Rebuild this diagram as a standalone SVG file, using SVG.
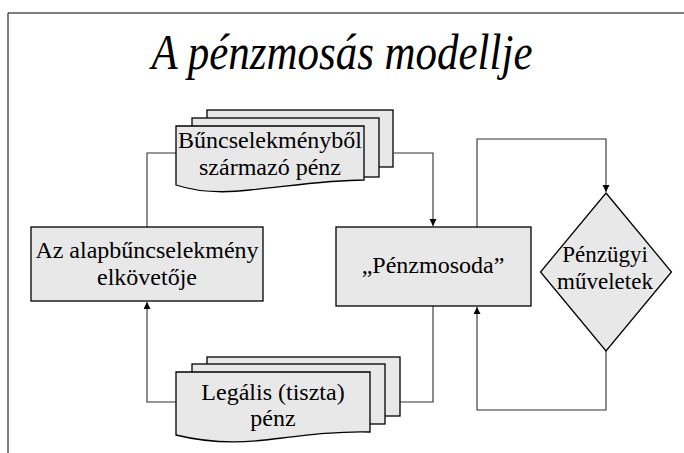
<svg xmlns="http://www.w3.org/2000/svg" width="684" height="453" viewBox="0 0 684 453">
<style>
.box{fill:#e8e8e8;stroke:#000;stroke-width:1.3}
.conn{fill:none;stroke:#303030;stroke-width:1.1}
.t{font-family:"Liberation Serif","Times New Roman",serif;font-size:24px;fill:#000;text-anchor:middle}
.ts{font-size:23px}
.title{font-family:"Liberation Serif","Times New Roman",serif;font-size:51px;font-style:italic;fill:#000;text-anchor:middle}
</style>
<defs>
<marker id="ah" markerUnits="userSpaceOnUse" markerWidth="8" markerHeight="8" refX="7" refY="3.5" orient="auto">
<path d="M0,0 L7,3.5 L0,7 Z" fill="#000"/>
</marker>
</defs>
<rect width="684" height="453" fill="#fff"/>
<g id="frame">
<line x1="8" y1="13" x2="684" y2="13" stroke="#808080" stroke-width="2"/>
<line x1="8" y1="13" x2="8" y2="453" stroke="#000" stroke-width="1"/>
</g>
<text class="title" x="342" y="69" textLength="381" lengthAdjust="spacingAndGlyphs">A pénzmosás modellje</text>
<g id="connectors">
<path class="conn" d="M147,227 V153 H176"/>
<path class="conn" d="M394,153 H433 V226" marker-end="url(#ah)"/>
<path class="conn" d="M433,306 V402 H400"/>
<path class="conn" d="M176,402 H147 V302" marker-end="url(#ah)"/>
<path class="conn" d="M477,227 V139 H606 V192" marker-end="url(#ah)"/>
<path class="conn" d="M606,351 V410 H477 V307" marker-end="url(#ah)"/>
</g>
<g id="node-buncselekmeny">
<rect class="box" x="207" y="110" width="186" height="57"/>
<rect class="box" x="192" y="118" width="187" height="59"/>
<path class="box" d="M176,126 H364 V180 C330,180 290,186 250,190 C225,193 200,193 176,185 Z"/>
<text class="t" x="270" y="148">Bűncselekményből</text>
<text class="t" x="270" y="175">származó pénz</text>
</g>
<g id="node-elkoveto">
<rect class="box" x="31" y="227" width="232" height="74"/>
<text class="t" x="147" y="258">Az alapbűncselekmény</text>
<text class="t" x="147" y="285">elkövetője</text>
</g>
<g id="node-penzmosoda">
<rect class="box" x="336" y="227" width="195" height="79"/>
<text class="t" x="433" y="273">„Pénzmosoda”</text>
</g>
<g id="node-penzugyi">
<polygon class="box" points="606,193 671.5,272 606,351 540.5,272"/>
<text class="t ts" x="605" y="262">Pénzügyi</text>
<text class="t ts" x="605" y="289">műveletek</text>
</g>
<g id="node-legalis">
<rect class="box" x="207" y="357" width="193" height="59"/>
<rect class="box" x="192" y="364" width="193" height="60"/>
<path class="box" d="M176,372 H370 V432 C335,431 300,436 265,440 C230,444 200,441 176,435 Z"/>
<text class="t" x="273" y="400">Legális (tiszta)</text>
<text class="t" x="273" y="426">pénz</text>
</g>
</svg>
